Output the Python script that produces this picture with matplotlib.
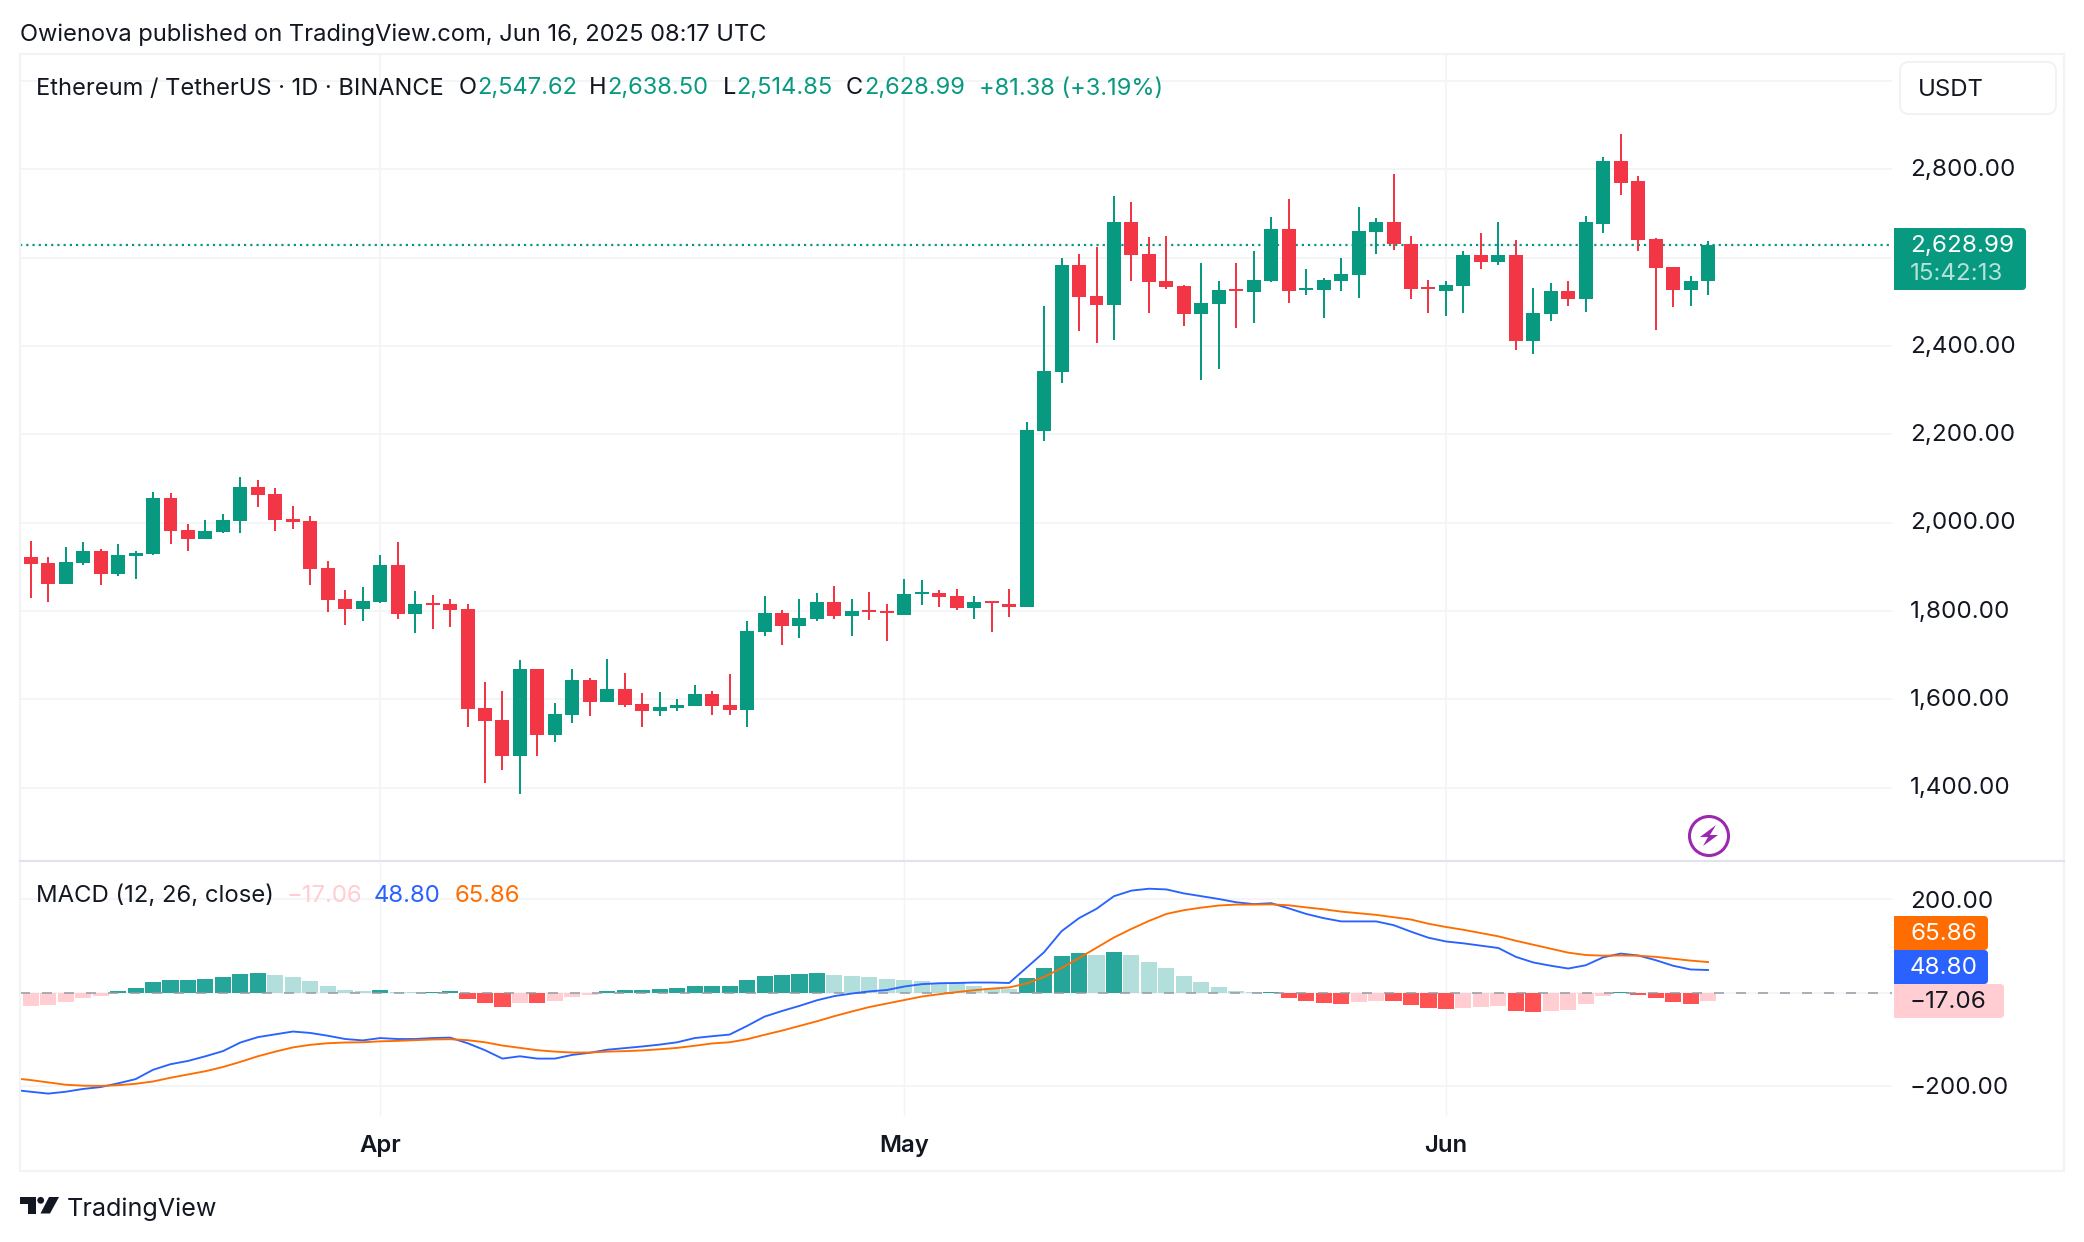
import numpy as np
import matplotlib
matplotlib.use("Agg")
import matplotlib.pyplot as plt
from matplotlib.patches import Circle, FancyBboxPatch, Polygon, Rectangle

plt.rcParams['font.family'] = ['Inter', 'DejaVu Sans']

W, H = 2084, 1242

# daily candles, 12 Mar 2025 to 16 Jun 2025
opens = [1922, 1909, 1861, 1909, 1936, 1884, 1925, 1929, 2056, 1983,
         1963, 1979, 2004, 2081, 2065, 2008, 2004, 1897, 1827, 1805,
         1820, 1904, 1793, 1818, 1816, 1805, 1580, 1553, 1472, 1669,
         1519, 1565, 1644, 1594, 1623, 1589, 1574, 1580, 1585, 1612,
         1587, 1576, 1752, 1795, 1766, 1782, 1820, 1789, 1802, 1800,
         1791, 1838, 1841, 1834, 1807, 1823, 1816, 1809, 2207, 2341,
         2584, 2514, 2493, 2680, 2609, 2548, 2536, 2473, 2495, 2530,
         2523, 2548, 2666, 2527, 2527, 2548, 2561, 2659, 2682, 2632,
         2534, 2525, 2536, 2607, 2591, 2607, 2411, 2473, 2525, 2507,
         2677, 2818, 2773, 2643, 2580, 2527, 2547.62]
highs = [1958, 1922, 1945, 1956, 1940, 1952, 1936, 2069, 2067, 1997,
         2006, 2020, 2103, 2097, 2078, 2038, 2015, 1913, 1848, 1854,
         1927, 1956, 1845, 1836, 1827, 1816, 1639, 1619, 1689, 1669,
         1592, 1669, 1648, 1691, 1660, 1614, 1617, 1601, 1632, 1619,
         1657, 1777, 1834, 1802, 1827, 1841, 1857, 1827, 1843, 1816,
         1872, 1870, 1848, 1850, 1834, 1823, 1850, 2227, 2491, 2600,
         2609, 2625, 2739, 2727, 2648, 2650, 2539, 2589, 2548, 2589,
         2616, 2693, 2734, 2575, 2555, 2600, 2714, 2689, 2789, 2650,
         2550, 2548, 2616, 2655, 2680, 2641, 2532, 2543, 2548, 2695,
         2827, 2880, 2786, 2645, 2580, 2559, 2638.50]
lows = [1829, 1820, 1861, 1904, 1859, 1879, 1872, 1927, 1952, 1936,
        1963, 1977, 1977, 2035, 1981, 1986, 1859, 1798, 1768, 1777,
        1818, 1782, 1750, 1759, 1764, 1537, 1411, 1440, 1386, 1472,
        1503, 1546, 1562, 1594, 1583, 1537, 1562, 1574, 1585, 1565,
        1565, 1537, 1743, 1723, 1739, 1777, 1782, 1743, 1780, 1732,
        1791, 1814, 1809, 1802, 1782, 1752, 1786, 1809, 2184, 2316,
        2434, 2407, 2414, 2548, 2475, 2530, 2445, 2323, 2348, 2441,
        2452, 2545, 2498, 2516, 2464, 2525, 2509, 2609, 2618, 2507,
        2475, 2468, 2475, 2575, 2584, 2391, 2382, 2457, 2491, 2477,
        2657, 2743, 2616, 2436, 2489, 2491, 2514.85]
closes = [1906, 1861, 1911, 1936, 1884, 1927, 1931, 2056, 1981, 1963,
          1981, 2006, 2081, 2063, 2006, 2002, 1895, 1825, 1805, 1823,
          1904, 1793, 1816, 1814, 1802, 1578, 1551, 1472, 1669, 1519,
          1567, 1644, 1594, 1623, 1587, 1574, 1583, 1587, 1612, 1585,
          1576, 1755, 1795, 1766, 1784, 1820, 1789, 1800, 1798, 1795,
          1838, 1843, 1832, 1807, 1820, 1818, 1809, 2209, 2343, 2584,
          2511, 2493, 2680, 2607, 2545, 2534, 2473, 2498, 2527, 2525,
          2550, 2666, 2525, 2532, 2550, 2564, 2661, 2682, 2630, 2530,
          2530, 2539, 2607, 2591, 2607, 2411, 2475, 2525, 2507, 2680,
          2818, 2770, 2641, 2577, 2527, 2548, 2628.99]

macd_hist = [-28, -26, -20, -11, -7, 4, 10, 23, 27, 27,
             29, 33, 40, 42, 38, 33, 25, 14, 6, 4,
             6, 1.5, 1.2, 1.5, 3.5, -13, -22, -30, -21, -22.5,
             -18, -9, -5, 3.5, 6, 6, 8, 10, 14, 14,
             14, 27, 35.5, 38, 40, 42, 38, 35.5, 33, 29,
             27, 25, 21, 20, 14, 10, 8, 31, 52.5, 78,
             84.5, 82, 86.6, 80, 65, 52.5, 35.5, 23, 12, 3.5,
             1.2, 1.5, -11, -18, -22, -24, -20, -17.5, -18, -26,
             -33, -35, -33, -30.5, -28, -39, -41, -39, -37, -24,
             -7, 1.5, -5, -11, -20, -24, -17.06]

# one value more than the candles: the lines start a day before the first one
macd_line = [-208, -212, -216, -212, -206, -202, -194, -185, -165, -153,
             -146, -136, -125, -106.5, -95, -89, -83, -86, -92, -99,
             -102, -97, -99, -99, -97, -96, -108, -123, -141, -136,
             -141, -141, -133, -128.5, -122, -118.5, -115, -111, -106, -97,
             -93, -89.5, -71, -51, -39, -28, -16, -7, -1.5, 3,
             6, 13.5, 18.5, 20.5, 21, 22, 22, 21, 54, 87,
             132, 160, 180, 207, 219, 223, 221.5, 213, 207, 201,
             194, 190, 192, 181, 169, 160, 153, 153, 153, 145,
             131, 118, 110, 106, 101, 96, 77, 65, 58, 52,
             59, 76, 84, 80, 70, 58, 50, 48.80]
signal_line = [-183, -187, -192, -197, -199, -199.5, -198, -195, -190, -182,
               -175, -168, -159, -148, -136, -126, -117, -111.5, -108, -106.5,
               -106, -104, -103, -101.5, -100, -99.5, -101.5, -106, -113, -118,
               -123, -126, -128, -128, -126, -125, -123.5, -121, -118, -113.5,
               -108.5, -106, -99.5, -90, -81, -71, -61, -50, -40, -30.5,
               -23, -15.5, -8, -3, 1.5, 5.5, 9, 11.5, 20, 34,
               53, 74.5, 96.5, 118.5, 137, 154, 169, 177, 182.5, 187,
               189, 189, 189.5, 187.5, 183, 179, 174, 170.5, 167, 162,
               157, 148, 141, 135, 128, 121, 111.5, 103, 94.5, 86,
               81, 79.5, 80, 79.5, 77, 73, 69, 65.86]

month_days = [20, 50, 81]
month_labels = ['Apr', 'May', 'Jun']
price_ticks = [1400, 1600, 1800, 2000, 2200, 2400, 2600, 2800]
price_grid = price_ticks + [3000]
macd_ticks = [-200, 200]

last_close = 2628.99
last_hist, last_macd, last_signal = -17.06, 48.80, 65.86

GREEN = '#089981'
RED = '#F23645'
GRID = '#F3F4F6'
FRAME = '#F2F3F5'
TEXT = '#131722'


def axes_px(x0, y0, x1, y1, **kw):
    return fig.add_axes([x0 / W, 1 - y1 / H, (x1 - x0) / W, (y1 - y0) / H], **kw)


def badge(x0, y0, x1, y1, color):
    # square on the left, rounded on the right
    over.add_patch(FancyBboxPatch((x0, y0), x1 - x0, y1 - y0, boxstyle='round,pad=0,rounding_size=4',
                                  fc=color, ec='none', zorder=5))
    over.add_patch(Rectangle((x0, y0), 10, y1 - y0, fc=color, ec='none', zorder=5))


fig = plt.figure(figsize=(W / 100, H / 100), dpi=100, facecolor='white')

days = np.arange(len(closes))
line_days = np.arange(-1, len(closes))
xlim = (-0.614, 106.53)

# price pane
ax = axes_px(20, 53, 1892, 862)
ax.set_xlim(*xlim)
ax.set_ylim(2800 - (862 - 169.4) / 0.4417, 2800 + (169.4 - 53) / 0.4417)
ax.axis('off')
for p in price_grid:
    ax.axhline(p, color=GRID, lw=1.3, zorder=1)
for d in month_days:
    ax.axvline(d, color=GRID, lw=1.3, zorder=1)
ax.axhline(last_close, color=GREEN, lw=1.6, ls=(0, (1, 1.8)), zorder=2)

opens_a, closes_a = np.array(opens), np.array(closes)
candle_colors = [GREEN if c >= o else RED for o, c in zip(opens, closes)]
ax.vlines(days, lows, highs, colors=candle_colors, lw=1.44, zorder=3)
ax.bar(days, np.abs(closes_a - opens_a), bottom=np.minimum(opens_a, closes_a), width=0.8,
       color=candle_colors, lw=0, zorder=4)

# macd pane
ax2 = axes_px(20, 862, 1892, 1116)
ax2.set_xlim(*xlim)
ax2.set_ylim(-(1116 - 992.8) / 0.4667, (992.8 - 862) / 0.4667)
ax2.axis('off')
for p in macd_ticks + [0]:
    ax2.axhline(p, color=GRID, lw=1.3, zorder=1)
for d in month_days:
    ax2.axvline(d, color=GRID, lw=1.0, zorder=1)

hist_colors = []
for i, v in enumerate(macd_hist):
    prev = macd_hist[i - 1] if i else v - 1
    if v >= 0:
        hist_colors.append('#26A69A' if v >= prev else '#B2DFDB')
    else:
        hist_colors.append('#FF5252' if v < prev else '#FFCDD2')
ax2.bar(days, macd_hist, width=0.92, color=hist_colors, lw=0, zorder=2)
ax2.axhline(0, color='#9598A1', alpha=0.75, lw=1.44, ls=(0, (5, 6)), zorder=3)
ax2.plot(line_days, macd_line, color='#2962FF', lw=1.35, zorder=4)
ax2.plot(line_days, signal_line, color='#FF6D00', lw=1.35, zorder=5)

# everything around the panes, in pixels
over = axes_px(0, 0, W, H)
over.set_xlim(0, W)
over.set_ylim(H, 0)
over.axis('off')
over.patch.set_alpha(0)

over.add_patch(Rectangle((20, 54), 2044, 1117, fc='none', ec=FRAME, lw=1.5, zorder=1))
over.plot([20, 2064], [861, 861], color='#E0E3EB', lw=1.5, zorder=1)

over.text(20, 34.5, 'Owienova published on TradingView.com, Jun 16, 2025 08:17 UTC',
          fontsize=17.05, color=TEXT, va='center')

# legend rows
fs = 17.2
for x, s, c in [(36, 'Ethereum / TetherUS · 1D · BINANCE', TEXT),
                (459, 'O', TEXT), (477, '2,547.62', GREEN),
                (589, 'H', TEXT), (607, '2,638.50', GREEN),
                (723, 'L', TEXT), (736, '2,514.85', GREEN),
                (846, 'C', TEXT), (864, '2,628.99', GREEN),
                (979, '+81.38 (+3.19%)', GREEN)]:
    over.text(x, 88.5, s, fontsize=17.0, color=c, va='center')
for x, s, c in [(36, 'MACD (12, 26, close)', TEXT),
                (287, '\u221217.06', '#FFCDD2'),
                (374, '48.80', '#2962FF'),
                (455, '65.86', '#FF6D00')]:
    over.text(x, 896, s, fontsize=fs, color=c, va='center')

# USDT box
over.add_patch(FancyBboxPatch((1900, 62), 156, 52, boxstyle='round,pad=0,rounding_size=9',
                              fc='white', ec='#F0F1F4', lw=1.3, zorder=3))
over.text(1918, 89.5, 'USDT', fontsize=fs, color=TEXT, va='center', zorder=4)

# price scale
for p in price_ticks:
    y = 170 + (2800 - p) * 0.4417
    over.text(1910, y, f'{p:,.2f}', fontsize=17.4, color=TEXT, va='center')
badge(1894, 228, 2026, 290, GREEN)
over.text(1910, 245.5, f'{last_close:,.2f}', fontsize=17.4, color='white', va='center', zorder=6)
over.text(1910, 273.5, '15:42:13', fontsize=17.4, color='#B5E2D9', va='center', zorder=6)

# macd scale
over.text(1910, 901.5, '200.00', fontsize=17.4, color=TEXT, va='center')
over.text(1910, 1088.5, '\u2212200.00', fontsize=17.4, color=TEXT, va='center')
badge(1894, 916, 1988, 950, '#FF6D00')
badge(1894, 950, 1988, 984, '#2962FF')
badge(1894, 984, 2004, 1018, '#FFCDD2')
over.text(1910, 934, f'{last_signal:.2f}', fontsize=17.4, color='white', va='center', zorder=6)
over.text(1910, 968, f'{last_macd:.2f}', fontsize=17.4, color='white', va='center', zorder=6)
over.text(1910, 1002.5, f'\u2212{abs(last_hist):.2f}', fontsize=17.4, color=TEXT, va='center', zorder=6)

# month labels sit on the same day positions as the candles
for d, s in zip(month_days, month_labels):
    px = 30.6 + 17.47 * d
    over.text(px, 1146, s, fontsize=fs, color=TEXT, weight='semibold', ha='center', va='center')

# lightning icon
over.add_patch(Circle((1709, 836), 19.5, fc='white', ec='#9C27B0', lw=2.2, zorder=3))
over.add_patch(Polygon([(1716, 825), (1700, 837), (1708, 837), (1703, 846), (1718, 835), (1710, 835)],
                       fc='#9C27B0', ec='none', zorder=4))

# TradingView logo
over.add_patch(Polygon([(20, 1197), (35.5, 1197), (35.5, 1213.5), (28, 1213.5), (28, 1204), (20, 1204)],
                       fc=TEXT, ec='none'))
over.add_patch(Circle((40.7, 1200.3), 3.4, fc=TEXT, ec='none'))
over.add_patch(Polygon([(49, 1197), (59, 1197), (50, 1213.5), (40.5, 1213.5)], fc=TEXT, ec='none'))
over.text(67, 1209, 'TradingView', fontsize=18.1, color=TEXT, va='center')

fig.savefig('out.png', dpi=100, facecolor='white')
